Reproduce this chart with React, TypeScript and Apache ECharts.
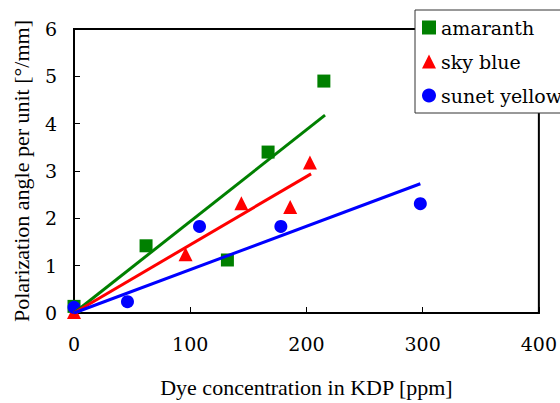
import React, { useEffect, useRef } from "react";
import * as echarts from "echarts";

const amaranth: [number, number][] = [
  [0, 0.14], [62, 1.42], [132, 1.12], [167, 3.4], [215, 4.9],
];
const skyBlue: [number, number][] = [
  [0, 0.02], [96, 1.24], [144, 2.32], [186, 2.24], [203, 3.18],
];
const sunsetYellow: [number, number][] = [
  [0, 0.12], [46, 0.24], [108, 1.83], [178, 1.83], [298, 2.31],
];
const amaranthFit: [number, number][] = [[0, 0], [216, 4.18]];
const skyBlueFit: [number, number][] = [[0, 0], [204, 2.94]];
const sunsetFit: [number, number][] = [[0, 0], [298, 2.73]];

const seriesNames = ["amaranth", "sky blue", "sunet yellow"];
const colors = ["#008000", "#ff0000", "#0000ff"];

const FONT = "Liberation Serif";
const LABEL_FONT = "DejaVu Serif";

export default function App() {
  const ref = useRef<HTMLDivElement>(null);
  useEffect(() => {
    document.body.style.margin = "0";
    if (!ref.current) return;
    const chart = echarts.init(ref.current, null, { renderer: "svg" });
    const fitLine = (name: string, data: [number, number][], color: string) => ({
      name: name + " fit",
      type: "line",
      data,
      symbol: "none",
      z: 5,
      lineStyle: { color, width: 3 },
      itemStyle: { color },
    });
    chart.setOption({
      animation: false,
      textStyle: { fontFamily: FONT },
      grid: {
        left: 74, top: 29, right: 20, bottom: 86,
        show: true, borderColor: "#000", borderWidth: 2, backgroundColor: "transparent",
      },
      legend: {
        data: seriesNames,
        orient: "vertical",
        left: 415,
        top: 10,
        padding: [8, 60, 8, 7],
        itemWidth: 14,
        itemHeight: 14,
        itemGap: 15,
        backgroundColor: "#fff",
        borderColor: "#333",
        borderWidth: 1,
        textStyle: { fontFamily: LABEL_FONT, fontSize: 19, color: "#000" },
      },
      xAxis: {
        type: "value",
        min: 0, max: 400, interval: 100,
        name: "Dye concentration in KDP [ppm]",
        nameLocation: "middle",
        nameGap: 63,
        nameTextStyle: { fontFamily: FONT, fontSize: 22, color: "#000" },
        axisLine: { lineStyle: { color: "#000", width: 2 } },
        axisTick: { inside: true, length: 6, lineStyle: { color: "#000", width: 1 } },
        axisLabel: { fontFamily: LABEL_FONT, fontSize: 19, color: "#000", margin: 21 },
        splitLine: { show: false },
      },
      yAxis: {
        type: "value",
        min: 0, max: 6, interval: 1,
        name: "Polarization angle per unit [°/mm]",
        nameLocation: "middle",
        nameGap: 42,
        nameTextStyle: { fontFamily: FONT, fontSize: 22, color: "#000" },
        axisLine: { lineStyle: { color: "#000", width: 2 } },
        axisTick: { inside: true, length: 6, lineStyle: { color: "#000", width: 1 } },
        axisLabel: { fontFamily: LABEL_FONT, fontSize: 19, color: "#000", margin: 17 },
        splitLine: { show: false },
      },
      series: [
        {
          name: seriesNames[0], type: "scatter", data: amaranth,
          symbol: "rect", symbolSize: 13, z: 3,
          itemStyle: { color: colors[0], opacity: 1 },
        },
        {
          name: seriesNames[1], type: "scatter", data: skyBlue,
          symbol: "triangle", symbolSize: 14, z: 3,
          itemStyle: { color: colors[1], opacity: 1 },
        },
        {
          name: seriesNames[2], type: "scatter", data: sunsetYellow,
          symbol: "circle", symbolSize: 13, z: 3,
          itemStyle: { color: colors[2], opacity: 1 },
        },
        fitLine(seriesNames[0], amaranthFit, colors[0]),
        fitLine(seriesNames[1], skyBlueFit, colors[1]),
        fitLine(seriesNames[2], sunsetFit, colors[2]),
      ],
    });
    return () => chart.dispose();
  }, []);
  return <div ref={ref} style={{ width: 560, height: 403 }} />;
}
